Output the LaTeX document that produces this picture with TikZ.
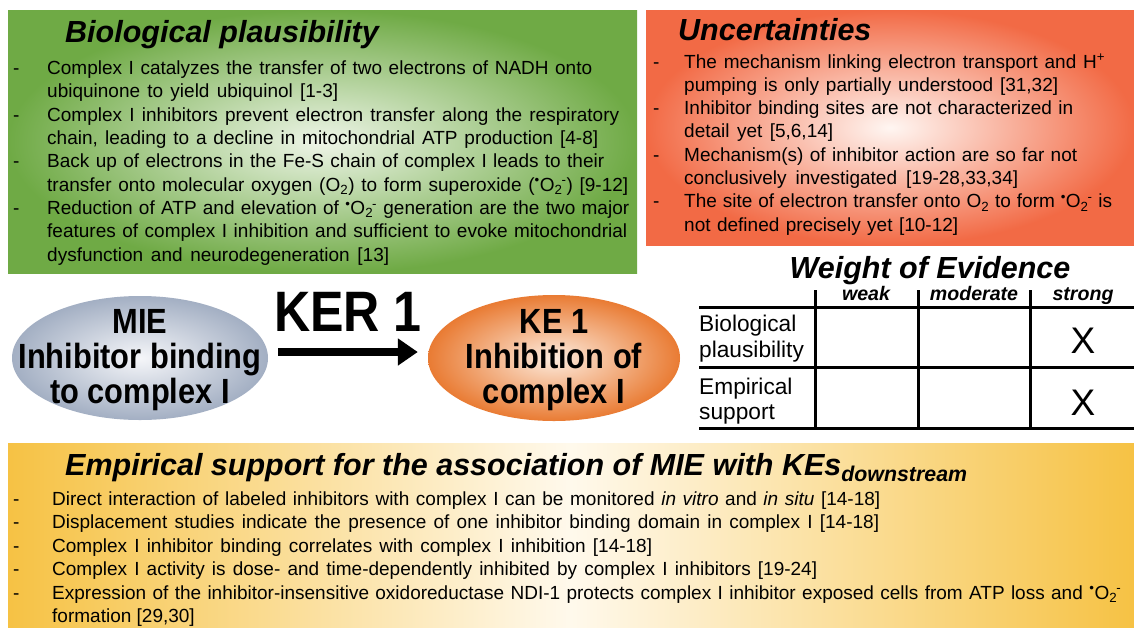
\documentclass[tikz,border=0pt]{standalone}
\usepackage{fontspec}
\setmainfont{Liberation Sans}
\newfontfamily\narrowfont[FakeStretch=0.88]{Liberation Sans}
\usetikzlibrary{arrows.meta,shapes.geometric}
\definecolor{gEdge}{HTML}{6FAA45}
\definecolor{gMid}{HTML}{EEF5E8}
\definecolor{oEdge}{HTML}{F26A45}
\definecolor{oMid}{HTML}{FFF6F2}
\definecolor{yEdge}{HTML}{F6C244}
\definecolor{yMid}{HTML}{FFF9EC}
\definecolor{mieEdge}{HTML}{A3AFC3}
\definecolor{mieMid}{HTML}{F5F6F9}
\definecolor{keEdge}{HTML}{E97B33}
\definecolor{keMid}{HTML}{FDEBDD}
\newcommand{\Orad}{\textsuperscript{•}O\textsubscript{2}\kern-0.05em\textsuperscript{-}\relax}
\begin{document}
\begin{tikzpicture}[x=1pt,y=-1pt,
  body/.style={font=\fontsize{19}{23}\selectfont, inner sep=0pt, anchor=base west},
  ttl/.style={font=\fontsize{30.5}{36}\selectfont\bfseries\itshape, inner sep=0pt, anchor=base west},
  etext/.style={font=\narrowfont\fontsize{35}{35}\selectfont\bfseries, inner sep=0pt, anchor=base},
  kertext/.style={font=\narrowfont\fontsize{57}{57}\selectfont\bfseries, inner sep=0pt, anchor=base},
  hdr/.style={font=\fontsize{19.6}{23}\selectfont\bfseries\itshape, inner sep=0pt, anchor=base},
  rowlab/.style={font=\fontsize{22.7}{27}\selectfont, inner sep=0pt, anchor=base west},
  xmark/.style={font=\fontsize{37}{40}\selectfont, inner sep=0pt, anchor=base},
  gridline/.style={line width=3pt, black},
  evshape/.style={ellipse, draw=none, inner sep=0pt},
  kerarrow/.style={line width=8pt, -{Triangle[length=20pt,width=26pt]}, shorten <=10pt, shorten >=10pt}
]
\useasboundingbox (0,0) rectangle (1134,627);
\fill[white] (0,0) rectangle (1134,627);

% panels
\shade[inner color=gMid, outer color=gEdge] (8,10) rectangle (637,273);
\shade[inner color=oMid, outer color=oEdge] (646,10) rectangle (1134,245);
\shade[left color=yEdge, right color=yEdge, middle color=yMid] (8,443) rectangle (1134,627);

% Biological plausibility
\node[ttl] (gt) at (65,42) {Biological plausibility};
\foreach \yy in {74.5,121,167.7,214.3} \node[body] at (13,\yy) {-};
\node[body] (g1) at (47,74.5) {\makebox[545pt][s]{Complex I catalyzes the transfer of two electrons of NADH onto}};
\node[body] (g2) at (47,97.8) {\makebox[291pt][s]{ubiquinone to yield ubiquinol [1-3]}};
\node[body] (g3) at (47,121) {\makebox[572pt][s]{Complex I inhibitors prevent electron transfer along the respiratory}};
\node[body] (g4) at (47,144.4) {\makebox[551pt][s]{chain, leading to a decline in mitochondrial ATP production [4-8]}};
\node[body] (g5) at (47,167.7) {\makebox[557pt][s]{Back up of electrons in the Fe-S chain of complex I leads to their}};
\node[body] (g6) at (47,191) {\makebox[581pt][s]{transfer onto molecular oxygen (O\textsubscript{2}) to form superoxide (\Orad) [9-12]}};
\node[body] (g7) at (47,214.3) {\makebox[582pt][s]{Reduction of ATP and elevation of \Orad{} generation are the two major}};
\node[body] (g8) at (47,237.6) {\makebox[580pt][s]{features of complex I inhibition and sufficient to evoke mitochondrial}};
\node[body] (g9) at (47,261) {\makebox[342pt][s]{dysfunction and neurodegeneration [13]}};

% Uncertainties
\node[ttl] (ut) at (678,40) {Uncertainties};
\foreach \yy in {68,114.6,161.2,207.8} \node[body] at (653,\yy) {-};
\node[body] (u1) at (684,68) {\makebox[421pt][s]{The mechanism linking electron transport and H\textsuperscript{+}}};
\node[body] (u2) at (684,91.3) {\makebox[374pt][s]{pumping is only partially understood [31,32]}};
\node[body] (u3) at (684,114.6) {\makebox[389pt][s]{Inhibitor binding sites are not characterized in}};
\node[body] (u4) at (684,137.9) {\makebox[149pt][s]{detail yet [5,6,14]}};
\node[body] (u5) at (684,161.2) {\makebox[393pt][s]{Mechanism(s) of inhibitor action are so far not}};
\node[body] (u6) at (684,184.5) {\makebox[334pt][s]{conclusively investigated [19-28,33,34]}};
\node[body] (u7) at (684,207.8) {\makebox[428pt][s]{The site of electron transfer onto O\textsubscript{2} to form \Orad{} is}};
\node[body] (u8) at (684,231.1) {\makebox[274pt][s]{not defined precisely yet [10-12]}};

% MIE -> KE 1
\node[evshape, minimum width=256pt, minimum height=124pt, inner color=mieMid, outer color=mieEdge] (mie) at (140,358) {};
\node[evshape, minimum width=252pt, minimum height=126pt, inner color=keMid, outer color=keEdge] (ke) at (554,358) {};
\node[etext] (mie1) at (140,333) {MIE};
\node[etext] (mie2) at (140,368) {Inhibitor binding};
\node[etext] (mie3) at (140,403) {to complex I};
\node[etext] (ke1) at (554,333) {KE 1};
\node[etext] (ke2) at (554,368) {Inhibition of};
\node[etext] (ke3) at (554,403) {complex I};
\node[kertext] (ker) at (348,331) {KER 1};
\draw[kerarrow] ([yshift=6pt]mie.east) -- ([yshift=6pt]ke.west);

% Weight of evidence table
\node[ttl, anchor=base] (wt) at (930,278) {Weight of Evidence};
\node[hdr] (hw) at (866,300) {weak};
\node[hdr] (hm) at (974,300) {moderate};
\node[hdr] (hs) at (1083,300) {strong};
\draw[gridline] (699,307) -- (1134,307);
\draw[gridline] (699,367) -- (1134,367);
\draw[gridline] (699,428) -- (1134,428);
\draw[gridline] (815,290) -- (815,428);
\draw[gridline] (918,290) -- (918,428);
\draw[gridline] (1030,290) -- (1030,428);
\node[rowlab] (r1a) at (699,331) {Biological};
\node[rowlab] (r1b) at (699,357) {plausibility};
\node[rowlab] (r2a) at (699,394) {Empirical};
\node[rowlab] (r2b) at (699,419) {support};
\node[xmark] (x1) at (1083,353) {X};
\node[xmark] (x2) at (1083,415) {X};

% Empirical support
\node[ttl] (et) at (65,475) {Empirical support for the association of MIE with KEs\textsubscript{downstream}};
\foreach \yy in {505,528.5,552,575.5,599} \node[body] at (13,\yy) {-};
\node[body] (e1) at (52,505) {\makebox[828pt][s]{Direct interaction of labeled inhibitors with complex I can be monitored \textit{in vitro} and \textit{in situ} [14-18]}};
\node[body] (e2) at (52,528.5) {\makebox[827pt][s]{Displacement studies indicate the presence of one inhibitor binding domain in complex I [14-18]}};
\node[body] (e3) at (52,552) {\makebox[600pt][s]{Complex I inhibitor binding correlates with complex I inhibition [14-18]}};
\node[body] (e4) at (52,575.5) {\makebox[765pt][s]{Complex I activity is dose- and time-dependently inhibited by complex I inhibitors [19-24]}};
\node[body] (e5) at (52,599) {\makebox[1069pt][s]{Expression of the inhibitor-insensitive oxidoreductase NDI-1 protects complex I inhibitor exposed cells from ATP loss and \Orad}};
\node[body] (e6) at (52,622.5) {formation [29,30]};
\end{tikzpicture}
\end{document}
